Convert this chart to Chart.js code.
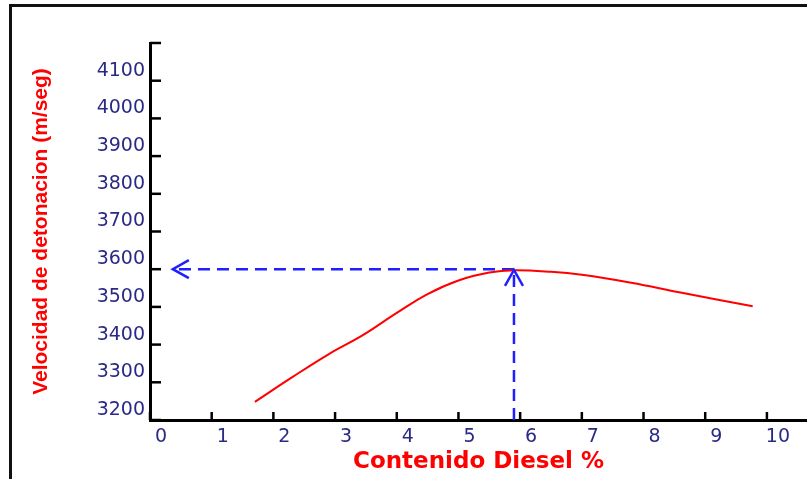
<!DOCTYPE html>
<html>
<head>
<meta charset="utf-8">
<script src="https://cdn.jsdelivr.net/npm/chart.js@4.4.1/dist/chart.umd.min.js"></script>
<style>
  body { margin: 0; background: #fff; }
  #wrap { position: relative; width: 807px; height: 479px; overflow: hidden; }
  #frame { position: absolute; left: 9px; top: 4px; width: 900px; height: 600px;
           border-left: 3px solid #111; border-top: 3px solid #111; pointer-events: none; }
  canvas { position: absolute; left: 0; top: 0; }
</style>
</head>
<body>
<div id="wrap">
  <canvas id="chart" width="807" height="479"></canvas>
  <div id="frame"></div>
</div>

<script>
    // values
    var dieselPct = [1.7, 2.3, 2.9, 3.45, 4.0, 4.5, 5.0, 5.5, 5.9, 6.5, 7.0, 7.8, 8.6, 9.77];
    var velocidad = [3248, 3313, 3375, 3425, 3484, 3534, 3570, 3591, 3597, 3593, 3585, 3564, 3538, 3502];

    // dashed guides to the maximum
    var guideHorizX = [5.9, 0.37];
    var guideHorizY = [3600, 3600];
    var guideVertX = [5.9, 5.9];
    var guideVertY = [3200, 3598];

    var xTicks = [0, 1, 2, 3, 4, 5, 6, 7, 8, 9, 10];
    var yTicks = [3200, 3300, 3400, 3500, 3600, 3700, 3800, 3900, 4000, 4100, 4200];

    function toPoints(xs, ys) {
        return xs.map(function (x, i) { return { x: x, y: ys[i] }; });
    }

    var tickColor = '#2a2a86';

    // inward tick marks + arrow heads
    var extras = {
        id: 'extras',
        afterDatasetsDraw: function (chart) {
            var ctx = chart.ctx;
            var xs = chart.scales.x, ys = chart.scales.y;
            ctx.save();
            ctx.strokeStyle = '#000';
            ctx.lineWidth = 2.5;
            xs.ticks.forEach(function (t) {
                var px = xs.getPixelForValue(t.value);
                ctx.beginPath();
                ctx.moveTo(px, xs.top);
                ctx.lineTo(px, xs.top - 8);
                ctx.stroke();
            });
            ys.ticks.forEach(function (t) {
                var py = ys.getPixelForValue(t.value);
                ctx.beginPath();
                ctx.moveTo(ys.right, py);
                ctx.lineTo(ys.right + 11, py);
                ctx.stroke();
            });

            // chevrons at the end of each guide
            ctx.strokeStyle = '#1f1fff';
            ctx.lineWidth = 2.5;
            [1, 2].forEach(function (i) {
                var pts = chart.getDatasetMeta(i).data;
                var a = pts[pts.length - 2], b = pts[pts.length - 1];
                var dx = b.x - a.x, dy = b.y - a.y;
                var len = Math.sqrt(dx * dx + dy * dy);
                dx /= len; dy /= len;
                var back = 16, side = 9;
                ctx.beginPath();
                ctx.moveTo(b.x - dx * back - dy * side, b.y - dy * back + dx * side);
                ctx.lineTo(b.x, b.y);
                ctx.lineTo(b.x - dx * back + dy * side, b.y - dy * back - dx * side);
                ctx.stroke();
            });
            ctx.restore();
        }
    };

    var ctxL = document.getElementById('chart').getContext('2d');
    var myChart = new Chart(ctxL, {
        type: 'line',
        data: {
            datasets: [
                {
                    data: toPoints(dieselPct, velocidad),
                    borderColor: '#ff0000',
                    borderWidth: 2,
                    pointRadius: 0,
                    tension: 0.4
                },
                {
                    data: toPoints(guideHorizX, guideHorizY),
                    borderColor: '#1f1fff',
                    borderWidth: 2.5,
                    borderDash: [12, 7],
                    pointRadius: 0
                },
                {
                    data: toPoints(guideVertX, guideVertY),
                    borderColor: '#1f1fff',
                    borderWidth: 2.5,
                    borderDash: [12, 7],
                    pointRadius: 0
                }
            ]
        },
        options: {
            responsive: false,
            animation: false,
            devicePixelRatio: 1,
            layout: { padding: { top: 43, right: 0, left: 0, bottom: 0 } },
            plugins: { legend: { display: false }, tooltip: { enabled: false } },
            scales: {
                x: {
                    type: 'linear',
                    min: 0,
                    max: 10.65,
                    afterFit: function (s) { s.height = 59; },
                    afterBuildTicks: function (s) { s.ticks = xTicks.map(function (v) { return { value: v }; }); },
                    grid: { display: false, drawTicks: false },
                    border: { display: true, color: '#000', width: 3 },
                    ticks: {
                        color: tickColor,
                        padding: 6,
                        labelOffset: 11,
                        maxRotation: 0,
                        autoSkip: false,
                        font: { family: 'DejaVu Sans', size: 19 }
                    },
                    title: {
                        display: true,
                        text: 'Contenido Diesel %',
                        color: '#ff0000',
                        padding: { top: 0, bottom: 3 },
                        font: { family: 'DejaVu Sans', size: 23, weight: 'bold' }
                    }
                },
                y: {
                    min: 3200,
                    max: 4200,
                    afterFit: function (s) { s.width = 150; },
                    afterBuildTicks: function (s) { s.ticks = yTicks.map(function (v) { return { value: v }; }); },
                    grid: { display: false, drawTicks: false },
                    border: { display: true, color: '#000', width: 3 },
                    ticks: {
                        color: tickColor,
                        padding: 5,
                        labelOffset: -10,
                        autoSkip: false,
                        font: { family: 'DejaVu Sans', size: 19 },
                        callback: function (v) { return v >= 4200 ? '' : v; }
                    },
                    title: {
                        display: true,
                        text: 'Velocidad de detonacion (m/seg)',
                        color: '#ff0000',
                        padding: { top: 29, bottom: 0 },
                        font: { family: 'Liberation Sans', size: 21, weight: 'bold' }
                    }
                }
            }
        },
        plugins: [extras]
    });
</script>
</body>
</html>
